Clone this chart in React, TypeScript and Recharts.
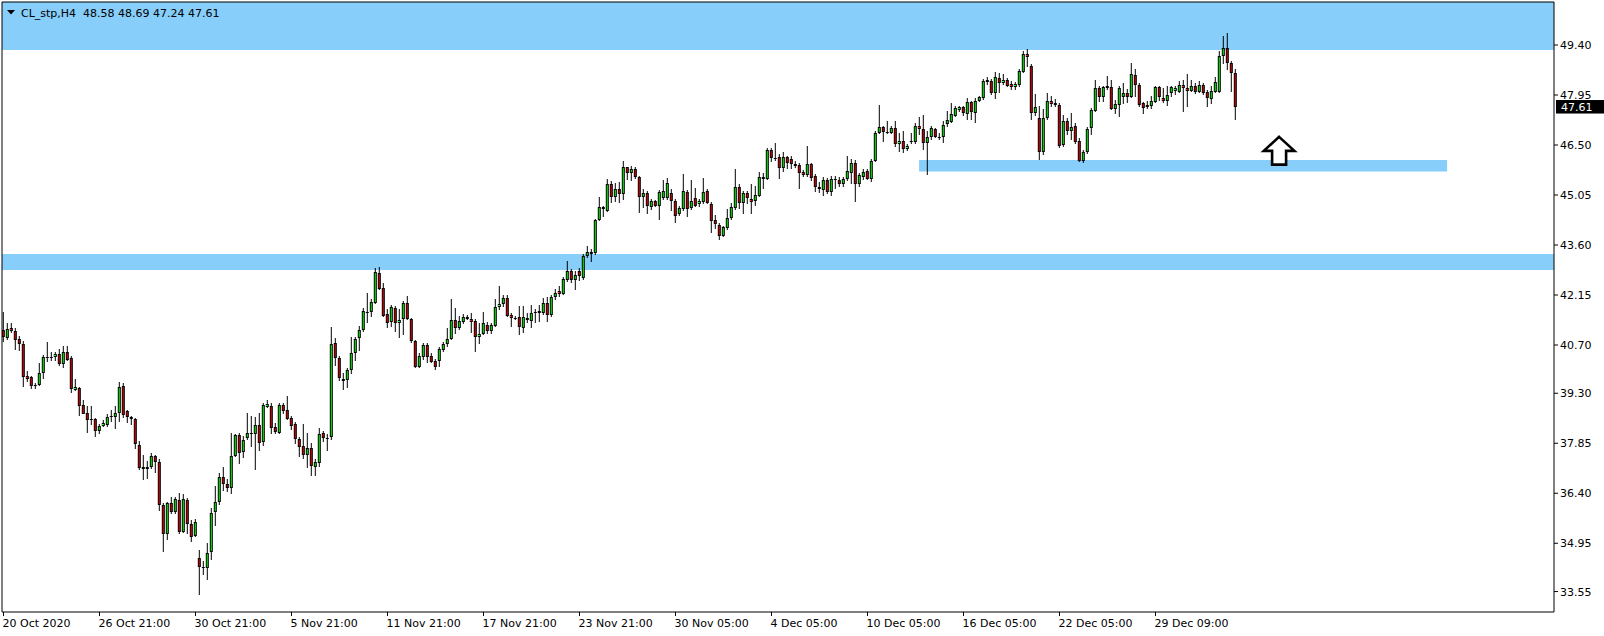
import React from "react"
import { Bar, ComposedChart, ReferenceArea, ReferenceDot, ReferenceLine, XAxis, YAxis } from "recharts"

const title = "CL_stp,H4  48.58 48.69 47.24 47.61"

// H4 candles (oldest first)
const opens = [
  41.14, 40.89, 41.18, 41.11, 40.87, 40.73, 39.80, 39.76, 39.53, 39.54, 39.88, 40.34, 40.34, 40.34, 40.44, 40.15, 40.50, 40.32, 39.40, 39.44,
  38.96, 38.74, 38.54, 38.56, 38.21, 38.36, 38.39, 38.63, 38.62, 38.72, 39.51, 38.78, 38.60, 38.55, 37.80, 37.15, 37.10, 37.15, 37.48, 37.31,
  36.05, 35.21, 36.11, 35.85, 36.21, 35.29, 36.21, 35.50, 35.17, 34.51, 34.27, 34.22, 34.69, 35.85, 36.16, 36.88, 36.66, 36.54, 37.49, 38.09,
  37.59, 38.01, 38.11, 38.12, 38.38, 37.88, 38.91, 38.93, 38.33, 38.16, 38.96, 38.82, 38.57, 38.41, 37.97, 37.77, 37.50, 37.70, 37.17, 37.27,
  38.14, 37.99, 38.02, 40.75, 40.31, 39.71, 39.69, 39.98, 40.46, 40.89, 41.14, 41.67, 41.67, 41.91, 42.78, 42.34, 41.59, 41.38, 41.76, 41.33,
  41.45, 41.93, 41.45, 40.82, 40.07, 40.34, 40.70, 40.38, 40.24, 40.24, 40.56, 40.72, 40.88, 41.43, 41.18, 41.36, 41.45, 41.45, 41.40, 40.94,
  41.01, 41.28, 41.11, 41.26, 41.79, 41.89, 42.05, 41.57, 41.49, 41.50, 41.18, 41.48, 41.40, 41.64, 41.64, 41.64, 41.93, 41.57, 42.08, 42.27,
  42.18, 42.59, 42.85, 42.59, 42.85, 42.63, 43.28, 43.41, 43.36, 44.33, 44.64, 44.60, 45.37, 45.00, 45.22, 45.07, 45.85, 45.70, 45.80, 45.56,
  45.00, 45.12, 44.69, 44.88, 44.74, 44.95, 44.95, 45.10, 44.88, 44.50, 44.64, 45.13, 44.66, 44.95, 44.78, 44.86, 45.17, 44.79, 44.33, 44.18,
  43.87, 44.08, 44.37, 44.68, 45.29, 44.83, 45.10, 44.93, 44.88, 45.03, 45.56, 45.51, 46.36, 46.13, 46.14, 45.82, 46.14, 46.09, 45.95, 45.92,
  45.73, 45.63, 45.95, 45.60, 45.29, 45.20, 45.49, 45.15, 45.51, 45.49, 45.37, 45.51, 45.70, 45.97, 45.36, 45.56, 45.75, 45.51, 46.04, 46.84,
  47.01, 46.89, 46.86, 46.98, 46.52, 46.62, 46.38, 46.62, 46.60, 47.05, 46.96, 46.55, 46.72, 46.96, 46.69, 46.72, 47.10, 47.18, 47.34, 47.52,
  47.61, 47.40, 47.74, 47.44, 47.79, 47.85, 48.34, 48.36, 48.02, 48.43, 48.29, 48.39, 48.27, 48.17, 48.24, 48.63, 49.14, 48.79, 47.42, 47.27,
  46.31, 47.27, 47.78, 47.73, 47.66, 46.49, 47.20, 46.91, 47.05, 46.62, 46.04, 46.29, 46.98, 47.49, 48.14, 47.88, 48.16, 48.17, 47.54, 47.66,
  47.90, 48.00, 47.90, 48.53, 48.24, 47.71, 47.59, 47.64, 47.76, 48.19, 47.85, 47.78, 48.02, 48.07, 48.05, 48.24, 48.14, 48.07, 48.21, 48.05,
  48.24, 48.05, 47.83, 48.05, 48.05, 49.08, 49.30, 48.87, 48.58,
]
const highs = [
  41.64, 41.31, 41.33, 41.18, 40.96, 40.80, 39.92, 39.79, 39.59, 40.15, 40.41, 40.77, 40.49, 40.49, 40.56, 40.65, 40.67, 40.36, 39.70, 39.47,
  39.08, 38.93, 38.91, 38.58, 38.40, 38.50, 38.67, 38.80, 38.91, 39.62, 39.57, 38.80, 38.62, 38.57, 37.90, 37.51, 37.32, 37.54, 37.51, 37.37,
  36.11, 36.13, 36.28, 36.28, 36.40, 36.35, 36.25, 35.60, 35.65, 34.73, 34.42, 34.95, 35.96, 36.61, 36.98, 37.15, 36.79, 38.12, 38.11, 38.14,
  38.04, 38.72, 38.62, 38.60, 38.72, 39.01, 39.10, 38.99, 38.43, 39.01, 38.99, 39.20, 38.62, 38.45, 38.02, 38.38, 38.14, 37.85, 37.37, 38.28,
  38.19, 38.09, 41.21, 40.89, 40.36, 39.88, 40.02, 40.92, 40.92, 41.23, 41.76, 42.20, 42.01, 42.92, 42.95, 42.49, 41.74, 41.86, 41.81, 41.72,
  41.96, 42.12, 41.47, 40.83, 40.44, 40.73, 40.75, 40.44, 40.29, 40.63, 40.77, 41.18, 42.03, 41.76, 41.52, 41.59, 41.57, 41.62, 41.43, 41.31,
  41.64, 41.35, 41.33, 42.01, 42.41, 42.15, 42.15, 41.62, 41.52, 41.81, 41.81, 41.60, 41.86, 41.72, 41.86, 42.05, 42.08, 42.15, 42.30, 42.41,
  42.66, 43.12, 42.90, 42.83, 42.92, 43.31, 43.55, 43.46, 44.34, 44.98, 44.73, 45.51, 45.44, 45.37, 45.41, 46.02, 45.86, 45.89, 45.85, 45.59,
  45.20, 45.15, 44.93, 44.89, 45.17, 45.46, 45.53, 45.20, 44.91, 44.71, 45.63, 45.17, 45.46, 45.24, 44.93, 45.53, 45.20, 44.82, 44.47, 44.21,
  44.15, 44.62, 44.81, 45.78, 45.34, 45.15, 45.15, 45.34, 45.29, 45.70, 45.68, 46.40, 46.40, 46.55, 46.21, 46.28, 46.16, 46.16, 46.02, 45.95,
  45.75, 46.45, 45.97, 45.63, 45.41, 45.56, 45.53, 45.58, 45.58, 45.56, 45.56, 46.16, 46.09, 46.04, 45.68, 45.80, 45.80, 46.09, 46.89, 47.66,
  47.03, 47.18, 47.03, 47.18, 46.84, 46.89, 46.50, 46.84, 47.11, 47.30, 47.37, 46.89, 47.03, 46.98, 46.84, 47.18, 47.47, 47.69, 47.63, 47.63,
  47.63, 47.85, 47.76, 47.85, 47.92, 48.41, 48.45, 48.39, 48.61, 48.56, 48.53, 48.43, 48.34, 48.31, 48.68, 49.21, 49.28, 48.82, 47.95, 47.61,
  47.54, 48.00, 47.92, 47.81, 47.71, 47.37, 47.27, 47.40, 47.13, 46.69, 46.33, 47.01, 47.56, 48.37, 48.19, 48.19, 48.48, 48.37, 47.78, 48.19,
  48.29, 48.12, 48.85, 48.68, 48.29, 47.73, 47.76, 47.92, 48.21, 48.21, 48.14, 48.21, 48.21, 48.19, 48.34, 48.36, 48.53, 48.36, 48.29, 48.34,
  48.29, 48.07, 48.21, 48.46, 49.21, 49.64, 49.74, 48.92, 48.69,
]
const lows = [
  40.80, 40.87, 41.06, 40.56, 40.53, 39.49, 39.64, 39.44, 39.43, 39.52, 39.73, 40.22, 40.24, 40.25, 40.10, 40.04, 40.25, 39.32, 39.39, 38.65,
  38.70, 38.16, 38.38, 38.04, 38.14, 38.33, 38.33, 38.48, 38.28, 38.48, 38.59, 38.45, 38.39, 37.70, 37.08, 36.79, 36.83, 37.12, 37.00, 35.89,
  34.71, 35.07, 35.82, 35.82, 35.22, 35.26, 35.24, 35.00, 35.16, 33.45, 34.03, 33.91, 34.49, 35.46, 36.06, 36.47, 36.45, 36.40, 37.46, 37.25,
  37.43, 37.95, 37.75, 37.08, 37.63, 37.78, 38.89, 38.14, 38.14, 38.12, 38.72, 38.53, 38.24, 37.83, 37.48, 37.41, 37.15, 36.91, 36.91, 37.17,
  37.90, 37.63, 37.95, 40.12, 39.66, 39.40, 39.47, 39.88, 40.24, 40.54, 41.09, 41.36, 41.52, 41.89, 42.30, 41.52, 41.20, 41.23, 41.09, 40.92,
  40.99, 41.43, 40.77, 40.06, 40.06, 40.27, 40.19, 40.19, 40.00, 40.07, 40.51, 40.65, 40.85, 41.04, 41.14, 41.33, 41.43, 41.06, 40.51, 40.73,
  40.99, 41.04, 41.04, 41.25, 41.74, 41.81, 41.52, 41.23, 41.43, 40.99, 41.06, 41.35, 41.21, 41.35, 41.38, 41.57, 41.38, 41.54, 42.03, 42.12,
  42.15, 42.54, 42.51, 42.30, 42.57, 42.61, 43.24, 43.12, 43.31, 44.30, 44.42, 44.57, 44.83, 44.86, 44.83, 44.93, 45.51, 45.46, 45.53, 44.54,
  44.69, 44.50, 44.64, 44.71, 44.35, 44.91, 44.93, 44.60, 44.25, 44.45, 44.60, 44.44, 44.64, 44.71, 44.73, 44.81, 44.79, 43.96, 44.08, 43.77,
  43.84, 44.04, 44.33, 44.62, 44.66, 44.52, 44.81, 44.52, 44.76, 45.00, 45.24, 45.49, 46.02, 46.04, 45.53, 45.73, 45.82, 45.82, 45.85, 45.24,
  45.60, 45.60, 45.46, 45.15, 45.12, 45.05, 45.10, 45.05, 45.24, 45.29, 45.29, 45.46, 45.37, 44.86, 45.29, 45.51, 45.49, 45.44, 46.02, 46.82,
  46.60, 46.84, 46.84, 46.47, 46.31, 46.28, 46.33, 46.55, 46.55, 46.79, 46.38, 45.65, 46.65, 46.71, 46.65, 46.57, 47.05, 47.15, 47.32, 47.47,
  47.37, 47.23, 47.23, 47.15, 47.76, 47.83, 48.24, 47.95, 47.85, 48.02, 48.24, 48.19, 48.10, 48.12, 48.21, 48.61, 48.79, 47.23, 47.37, 46.07,
  46.21, 47.23, 47.61, 47.61, 46.43, 46.46, 46.79, 46.65, 46.55, 46.03, 45.99, 46.24, 46.79, 47.47, 47.76, 47.76, 48.10, 47.52, 47.40, 47.34,
  47.71, 47.73, 47.88, 47.90, 47.61, 47.42, 47.56, 47.56, 47.73, 47.79, 47.73, 47.66, 47.90, 47.95, 48.02, 47.47, 47.61, 48.05, 47.98, 48.02,
  47.95, 47.63, 47.71, 48.02, 48.02, 48.87, 48.68, 48.05, 47.24,
]
const closes = [
  40.92, 41.16, 41.11, 40.85, 40.72, 39.78, 39.72, 39.52, 39.52, 39.88, 40.35, 40.35, 40.33, 40.43, 40.15, 40.50, 40.27, 39.43, 39.48, 38.94,
  38.71, 38.53, 38.52, 38.21, 38.35, 38.44, 38.61, 38.64, 38.72, 39.47, 38.67, 38.60, 38.55, 37.82, 37.14, 37.10, 37.15, 37.47, 37.31, 36.05,
  35.21, 36.11, 35.85, 36.23, 35.29, 36.23, 35.50, 35.14, 35.56, 34.25, 34.26, 34.66, 35.82, 36.16, 36.88, 36.66, 36.56, 37.49, 38.09, 37.56,
  37.95, 38.16, 38.16, 38.38, 37.85, 38.96, 39.00, 38.28, 38.19, 38.96, 38.80, 38.55, 38.36, 37.97, 37.75, 37.51, 37.70, 37.20, 37.32, 38.12,
  37.99, 38.00, 40.72, 40.31, 39.73, 39.66, 39.98, 40.46, 40.87, 41.14, 41.69, 41.66, 41.94, 42.81, 42.32, 41.55, 41.33, 41.79, 41.33, 41.43,
  41.93, 41.45, 40.82, 40.07, 40.38, 40.70, 40.36, 40.22, 40.05, 40.58, 40.73, 40.87, 41.43, 41.20, 41.40, 41.52, 41.50, 41.38, 40.92, 41.02,
  41.33, 41.11, 41.28, 41.79, 41.89, 42.05, 41.55, 41.47, 41.48, 41.21, 41.52, 41.42, 41.64, 41.67, 41.70, 41.93, 41.57, 42.08, 42.22, 42.18,
  42.61, 42.85, 42.59, 42.73, 42.70, 43.28, 43.41, 43.34, 44.33, 44.69, 44.71, 45.37, 44.98, 45.22, 45.07, 45.85, 45.68, 45.80, 45.58, 45.00,
  45.10, 44.74, 44.88, 44.74, 45.15, 45.17, 45.39, 44.89, 44.45, 44.66, 45.17, 44.64, 44.88, 44.74, 44.88, 45.13, 44.81, 44.30, 44.20, 43.87,
  44.11, 44.37, 44.69, 45.27, 44.81, 45.12, 44.95, 44.86, 45.05, 45.56, 45.51, 46.36, 46.13, 46.12, 45.82, 46.14, 45.97, 45.95, 45.89, 45.70,
  45.63, 45.95, 45.53, 45.29, 45.22, 45.49, 45.15, 45.51, 45.50, 45.37, 45.51, 45.75, 45.97, 45.37, 45.63, 45.73, 45.51, 46.04, 46.84, 47.01,
  46.89, 46.88, 46.98, 46.53, 46.62, 46.38, 46.47, 46.63, 47.05, 46.96, 46.55, 46.72, 46.98, 46.74, 46.74, 47.08, 47.23, 47.40, 47.56, 47.61,
  47.42, 47.74, 47.47, 47.78, 47.88, 48.36, 48.39, 48.02, 48.46, 48.29, 48.39, 48.22, 48.17, 48.27, 48.65, 49.14, 49.04, 47.42, 47.59, 46.31,
  47.27, 47.78, 47.69, 47.66, 46.47, 47.20, 46.91, 47.01, 46.60, 46.04, 46.29, 46.96, 47.52, 48.14, 47.88, 48.17, 48.21, 47.54, 47.69, 48.14,
  48.00, 47.90, 48.56, 48.24, 47.66, 47.56, 47.66, 47.78, 48.17, 47.88, 47.78, 47.95, 48.17, 48.14, 48.24, 48.14, 48.07, 48.21, 48.05, 48.24,
  48.02, 47.85, 48.07, 48.32, 49.08, 49.30, 48.87, 48.58, 47.61,
]

const dateTicks = [0, 24, 48, 72, 96, 120, 144, 168, 192, 216, 240, 264, 288]
const dateLabels = [
  "20 Oct 2020", "26 Oct 21:00", "30 Oct 21:00", "5 Nov 21:00", "11 Nov 21:00", "17 Nov 21:00", "23 Nov 21:00",
  "30 Nov 05:00", "4 Dec 05:00", "10 Dec 05:00", "16 Dec 05:00", "22 Dec 05:00", "29 Dec 09:00",
]
const priceTicks = [49.4, 47.95, 46.5, 45.05, 43.6, 42.15, 40.7, 39.3, 37.85, 36.4, 34.95, 33.55]

// drawn objects: zones (price bounds) and the arrow
const upperZone = [49.255, 50.647]
const middleZone = [42.875, 43.34]
const supportZone = { fromBar: 228.9, toBar: 360.9, low: 45.73, high: 46.065 }
const arrowAt = { bar: 318.9, price: 46.33 }

const Y_MIN = 32.957
const Y_MAX = 50.647
const X_MIN = -0.375
const X_MAX = 387.625

const FONT = "DejaVu Sans"
const BLUE = "#87cefa"

const candles = opens.map((o, i) => ({
  i,
  o,
  h: highs[i],
  l: lows[i],
  c: closes[i],
  range: [lows[i], highs[i]],
}))

const Candle = (props: any) => {
  const { x, y, width, height, payload } = props
  if (!payload) return null
  const { o, h, l, c } = payload
  const top = Math.min(y, y + height)
  const span = Math.abs(height)
  const py = (v: number) => top + ((h - v) / (h - l || 1)) * span
  const cx = x + width / 2
  const yHi = Math.floor(py(h))
  const yLo = Math.ceil(py(l))
  const bTop = Math.round(py(Math.max(o, c)))
  const bBot = Math.round(py(Math.min(o, c)))
  const up = c >= o
  return (
    <g>
      <line x1={cx} x2={cx} y1={yHi} y2={yLo} stroke="#000" strokeWidth={1} />
      {bBot - bTop <= 1 ? (
        <line x1={cx - 1.5} x2={cx + 1.5} y1={bTop + 0.5} y2={bTop + 0.5} stroke="#000" strokeWidth={1} />
      ) : (
        <rect x={cx - 1} y={bTop + 0.5} width={2} height={bBot - bTop - 1} fill={up ? "#00ff00" : "#e00000"} stroke="#000" strokeWidth={1} />
      )}
    </g>
  )
}

const DateTick = (props: any) => {
  const { x, payload } = props
  const k = dateTicks.indexOf(payload.value)
  return (
    <text x={x - 1} y={627} fontSize={11} fontFamily={FONT} fill="#000" textAnchor="start">
      {dateLabels[k]}
    </text>
  )
}

const PriceTick = (props: any) => {
  const { x, y, payload } = props
  return (
    <text x={x} y={y + 4} fontSize={11} fontFamily={FONT} fill="#000" textAnchor="start">
      {payload.value.toFixed(2)}
    </text>
  )
}

const ArrowShape = (props: any) => {
  const { cx, cy } = props
  const d = `M${cx} ${cy - 14} L${cx + 15.3} ${cy} L${cx + 7} ${cy} L${cx + 7} ${cy + 13.8} L${cx - 7} ${cy + 13.8} L${cx - 7} ${cy} L${cx - 15.3} ${cy} Z`
  return <path d={d} fill="#fff" stroke="#000" strokeWidth={2.6} strokeLinejoin="miter" />
}

const PriceTag = (props: any) => {
  const { cx, cy } = props
  return (
    <g>
      <rect x={cx + 2} y={cy - 6.7} width={50} height={13.5} fill="#000" />
      <text x={cx + 7} y={cy + 4.3} fontSize={11} fontFamily={FONT} fill="#fff">
        {closes[closes.length - 1].toFixed(2)}
      </text>
    </g>
  )
}

export default function App() {
  return (
    <div style={{ position: "fixed", left: 0, top: 0, width: 1604, height: 636, background: "#fff" }}>
      <ComposedChart width={1604} height={636} data={candles} margin={{ top: 2, right: 0, bottom: 0, left: 2 }}>
        <ReferenceArea y1={upperZone[0]} y2={upperZone[1]} fill={BLUE} fillOpacity={1} stroke="none" />
        <ReferenceArea y1={middleZone[0]} y2={middleZone[1]} fill={BLUE} fillOpacity={1} stroke="none" />
        <ReferenceArea
          x1={supportZone.fromBar}
          x2={supportZone.toBar}
          y1={supportZone.low}
          y2={supportZone.high}
          fill={BLUE}
          fillOpacity={1}
          stroke="none"
        />
        <XAxis
          dataKey="i"
          type="number"
          domain={[X_MIN, X_MAX]}
          allowDataOverflow
          ticks={dateTicks}
          interval={0}
          height={24}
          tickSize={4}
          stroke="#000"
          tick={DateTick}
        />
        <YAxis
          orientation="right"
          type="number"
          domain={[Y_MIN, Y_MAX]}
          allowDataOverflow
          ticks={priceTicks}
          interval={0}
          width={50}
          tickSize={4}
          stroke="#000"
          tick={PriceTick}
        />
        <ReferenceLine x={X_MIN} stroke="#000" />
        <ReferenceLine y={Y_MAX} stroke="#000" />
        <Bar dataKey="range" barSize={4} shape={Candle} isAnimationActive={false} />
        <ReferenceDot x={arrowAt.bar} y={arrowAt.price} shape={ArrowShape} />
        <ReferenceDot x={X_MAX} y={closes[closes.length - 1]} ifOverflow="visible" shape={PriceTag} />
      </ComposedChart>
      <svg width={300} height={22} style={{ position: "absolute", left: 0, top: 0 }}>
        <polygon points="7,10 15,10 11,14.5" fill="#000" />
        <text x={21} y={16.5} fontSize={11} fontFamily={FONT} fill="#000" style={{ whiteSpace: "pre" }}>
          {title}
        </text>
      </svg>
    </div>
  )
}
